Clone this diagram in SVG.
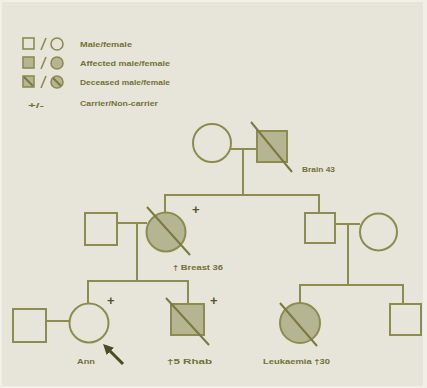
<svg xmlns="http://www.w3.org/2000/svg" width="427" height="388" viewBox="0 0 427 388">
  <defs>
    <style>
      .ln { stroke: #8c8c4e; stroke-width: 2; fill: none; }
      .un { stroke: #8c8c4e; stroke-width: 2; fill: #e7e5d9; }
      .af { stroke: #8c8c4e; stroke-width: 2; fill: #b6b592; }
      .sl { stroke: #7a7a3c; stroke-width: 2; fill: none; }
      .lg { stroke: #8c8c4e; stroke-width: 1.6; fill: #e7e5d9; }
      .lgf { stroke: #8c8c4e; stroke-width: 1.6; fill: #b6b592; }
      .tx { font-family: "Liberation Sans", Arial, sans-serif; font-size: 7.5px; font-weight: bold; fill: #727235; }
      .pl { font-family: "Liberation Sans", Arial, sans-serif; font-size: 13px; font-weight: bold; fill: #55552a; }
    </style>
    <marker id="ah" viewBox="0 0 10 10" refX="2" refY="5" markerWidth="3.5" markerHeight="3.5" orient="auto-start-reverse">
      <path d="M0,0 L10,5 L0,10 Z" fill="#4c4c22"/>
    </marker>
  </defs>

  <!-- background with pale edge -->
  <rect x="0" y="0" width="427" height="388" fill="#f1efe6"/>
  <rect x="2" y="2" width="421" height="384" fill="#e7e5d9"/>

  <!-- legend -->
  <g id="legend">
    <rect class="lg" x="23" y="38" width="11" height="11"/>
    <line class="lg" x1="41" y1="50" x2="46" y2="38"/>
    <circle class="lg" cx="57" cy="44" r="6"/>
    <text class="tx" x="80" y="47" textLength="52" lengthAdjust="spacingAndGlyphs">Male/female</text>

    <rect class="lgf" x="23" y="57" width="11" height="11"/>
    <line class="lg" x1="41" y1="69" x2="46" y2="57"/>
    <circle class="lgf" cx="57" cy="63" r="6"/>
    <text class="tx" x="80" y="66" textLength="90" lengthAdjust="spacingAndGlyphs">Affected male/female</text>

    <rect class="lgf" x="23" y="76" width="11" height="11"/>
    <line class="sl" x1="24" y1="77" x2="33" y2="86" stroke-width="1.4"/>
    <line class="lg" x1="41" y1="88" x2="46" y2="76"/>
    <circle class="lgf" cx="57" cy="82" r="6"/>
    <line class="sl" x1="53" y1="78" x2="61" y2="86" stroke-width="1.4"/>
    <text class="tx" x="80" y="85" textLength="90" lengthAdjust="spacingAndGlyphs">Deceased male/female</text>

    <text class="tx" x="28" y="108" textLength="16" lengthAdjust="spacingAndGlyphs">+/-</text>
    <text class="tx" x="80" y="106" textLength="78" lengthAdjust="spacingAndGlyphs">Carrier/Non-carrier</text>
  </g>

  <!-- connectors -->
  <g id="connectors">
    <!-- generation I -->
    <line class="ln" x1="231" y1="149" x2="257" y2="149"/>
    <line class="ln" x1="243" y1="149" x2="243" y2="195"/>
    <polyline class="ln" points="165,213 165,195 319,195 319,213"/>
    <!-- generation II, left couple -->
    <line class="ln" x1="117" y1="223" x2="147" y2="223"/>
    <line class="ln" x1="137" y1="223" x2="137" y2="281"/>
    <polyline class="ln" points="88,303 88,281 188,281 188,304"/>
    <!-- generation II, right couple -->
    <line class="ln" x1="335" y1="224" x2="360" y2="224"/>
    <line class="ln" x1="348" y1="224" x2="348" y2="285"/>
    <polyline class="ln" points="300,303 300,285 403,285 403,304"/>
    <!-- generation III couple -->
    <line class="ln" x1="46" y1="321" x2="69" y2="321"/>
    <!-- proband arrow -->
    <line x1="123" y1="364" x2="109" y2="350" stroke="#4c4c22" stroke-width="3" marker-end="url(#ah)"/>
  </g>

  <!-- generation I -->
  <g id="gm">
    <circle class="un" cx="212" cy="143" r="19"/>
  </g>
  <g id="gf">
    <rect class="af" x="257" y="131" width="30" height="31"/>
    <line class="sl" x1="251" y1="122" x2="292" y2="172"/>
    <text class="tx" x="302" y="172" textLength="33" lengthAdjust="spacingAndGlyphs">Brain 43</text>
  </g>

  <!-- generation II -->
  <g id="husband">
    <rect class="un" x="85" y="213" width="32" height="32"/>
  </g>
  <g id="mother">
    <circle class="af" cx="166" cy="232" r="19.5"/>
    <line class="sl" x1="147" y1="207" x2="190" y2="255"/>
    <text class="pl" x="192" y="214">+</text>
    <text class="tx" x="173" y="270" textLength="50" lengthAdjust="spacingAndGlyphs">† Breast 36</text>
  </g>
  <g id="uncle">
    <rect class="un" x="305" y="213" width="30" height="30"/>
  </g>
  <g id="aunt">
    <circle class="un" cx="378.5" cy="232" r="18.5"/>
  </g>

  <!-- generation III -->
  <g id="ann-husband">
    <rect class="un" x="13" y="309" width="33" height="33"/>
  </g>
  <g id="ann">
    <circle class="un" cx="89" cy="323" r="19.5"/>
    <text class="pl" x="107" y="305">+</text>
    <text class="tx" x="77" y="364" textLength="18" lengthAdjust="spacingAndGlyphs">Ann</text>
  </g>
  <g id="brother">
    <rect class="af" x="171" y="304" width="33" height="31"/>
    <line class="sl" x1="166" y1="298" x2="209" y2="345"/>
    <text class="pl" x="210" y="305">+</text>
    <text class="tx" x="167" y="364" textLength="45" lengthAdjust="spacingAndGlyphs">†5 Rhab</text>
  </g>
  <g id="cousin-f">
    <circle class="af" cx="300" cy="323" r="20"/>
    <line class="sl" x1="280" y1="303" x2="317" y2="346"/>
    <text class="tx" x="263" y="364" textLength="67" lengthAdjust="spacingAndGlyphs">Leukaemia †30</text>
  </g>
  <g id="cousin-m">
    <rect class="un" x="390" y="304" width="31" height="31"/>
  </g>
</svg>
